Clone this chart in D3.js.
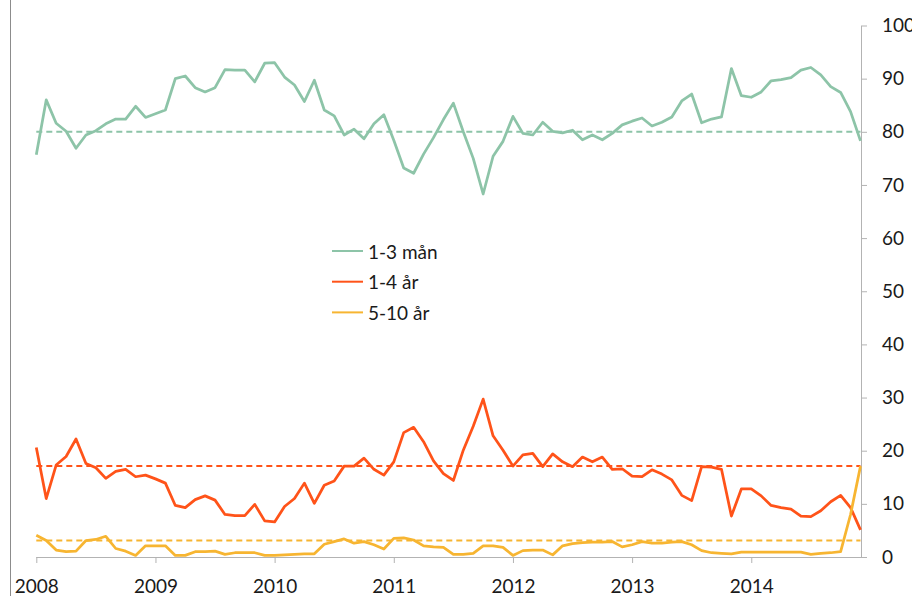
<!DOCTYPE html>
<html>
<head>
<meta charset="utf-8">
<script src="https://cdn.jsdelivr.net/npm/d3@7"></script>
<style>
  body { margin: 0; background: #fff; }
  svg { display: block; font-family: Lato, "Open Sans", sans-serif; }
</style>
</head>
<body>
<script>
// year labels, one tick every 12 months (Jan 2008 - Dec 2014)
var years = ["2008", "2009", "2010", "2011", "2012", "2013", "2014"];

// monthly values
var man13 = [75.7, 86.0, 81.6, 80.1, 76.9, 79.4, 80.2, 81.5, 82.4, 82.4, 84.8, 82.7,
             83.4, 84.1, 90.0, 90.5, 88.3, 87.5, 88.3, 91.7, 91.6, 91.6, 89.4, 92.9,
             93.0, 90.3, 88.8, 85.7, 89.7, 84.1, 83.0, 79.4, 80.5, 78.7, 81.5, 83.2,
             78.4, 73.2, 72.2, 75.8, 78.9, 82.3, 85.4, 80.0, 75.0, 68.3, 75.4, 78.2,
             82.9, 79.7, 79.4, 81.8, 80.1, 79.8, 80.3, 78.5, 79.4, 78.5, 79.7, 81.3,
             82.0, 82.6, 81.1, 81.8, 82.8, 85.8, 87.1, 81.7, 82.4, 82.8, 91.9, 86.8,
             86.5, 87.5, 89.6, 89.8, 90.2, 91.6, 92.1, 90.7, 88.5, 87.4, 83.8, 78.3];

var ar14 = [20.6, 11.0, 17.3, 18.9, 22.2, 17.6, 16.8, 14.8, 16.1, 16.5, 15.1, 15.4,
            14.7, 13.9, 9.7, 9.3, 10.8, 11.5, 10.7, 8.0, 7.8, 7.8, 9.9, 6.8,
            6.6, 9.5, 11.0, 13.9, 10.1, 13.5, 14.3, 17.1, 17.1, 18.6, 16.5, 15.4,
            17.9, 23.4, 24.4, 21.7, 18.1, 15.7, 14.4, 20.1, 24.6, 29.7, 22.8, 20.1,
            17.1, 19.2, 19.5, 17.0, 19.4, 17.9, 17.0, 18.8, 17.9, 18.8, 16.5, 16.6,
            15.2, 15.1, 16.4, 15.6, 14.5, 11.6, 10.6, 17.0, 16.9, 16.5, 7.7, 12.8,
            12.8, 11.5, 9.7, 9.3, 9.0, 7.7, 7.6, 8.7, 10.4, 11.6, 9.3, 5.1];

var ar510 = [4.1, 3.1, 1.3, 1.0, 1.1, 3.1, 3.3, 3.9, 1.6, 1.1, 0.3, 2.1,
             2.1, 2.1, 0.3, 0.3, 1.0, 1.0, 1.1, 0.5, 0.8, 0.8, 0.8, 0.3,
             0.3, 0.4, 0.5, 0.6, 0.6, 2.4, 2.9, 3.4, 2.6, 2.9, 2.3, 1.5,
             3.5, 3.6, 3.2, 2.1, 1.9, 1.8, 0.5, 0.5, 0.7, 2.1, 2.1, 1.8,
             0.3, 1.2, 1.3, 1.3, 0.4, 2.1, 2.5, 2.7, 2.8, 2.8, 2.9, 1.9,
             2.3, 2.9, 2.6, 2.6, 2.8, 2.9, 2.3, 1.2, 0.8, 0.7, 0.6, 0.9,
             0.9, 0.9, 0.9, 0.9, 0.9, 0.9, 0.5, 0.7, 0.8, 1.0, 8.0, 17.1];

// averages drawn as dashed lines
var averages = [80.0, 17.1, 3.1];

var seriesNames = ["1-3 mån", "1-4 år", "5-10 år"];
var seriesColors = ["#8dc4a8", "#ff5319", "#f7b531"];

var yTicks = [0, 10, 20, 30, 40, 50, 60, 70, 80, 90, 100];

var width = 912, height = 596;

var svg = d3.select("body").append("svg")
    .attr("width", width)
    .attr("height", height);

var n = man13.length;

var x = d3.scaleLinear()
    .domain([0, n - 1])
    .range([36.3, 860.5]);

var y = d3.scaleLinear()
    .domain([0, 100])
    .range([557, 25.5]);

// left border line
svg.append("line")
    .attr("x1", 10.5).attr("x2", 10.5)
    .attr("y1", 0).attr("y2", height)
    .style("stroke", "#8c8c8c")
    .style("stroke-width", 1);

// y axis on the right
var yAxis = svg.append("g")
    .attr("transform", "translate(" + 861 + ",0)")
    .call(d3.axisRight(y).tickValues(yTicks).tickSize(6).tickSizeOuter(0).tickPadding(15));

yAxis.select(".domain").style("stroke", "#b3b3b3");
yAxis.selectAll(".tick line").style("stroke", "#b3b3b3");
yAxis.selectAll(".tick text")
    .style("font-size", "19px")
    .style("fill", "#1a1a1a")
    .attr("font-family", "Lato, 'Open Sans', sans-serif");

// x axis, ticks at each january
var xAxis = svg.append("g")
    .attr("transform", "translate(0," + 557 + ")")
    .call(d3.axisBottom(x)
        .tickValues(years.map(function(d, i) { return i * 12; }))
        .tickFormat(function(d, i) { return years[i]; })
        .tickSize(6)
        .tickSizeOuter(0));

xAxis.select(".domain").attr("d", "M" + x(0) + ",0.5H861").style("stroke", "#b3b3b3");
xAxis.selectAll(".tick line").style("stroke", "#b3b3b3");
xAxis.selectAll(".tick text")
    .attr("y", 35.5)
    .attr("dy", null)
    .style("font-size", "19px")
    .style("fill", "#1a1a1a")
    .attr("font-family", "Lato, 'Open Sans', sans-serif");

// dashed average lines
averages.forEach(function(a, i) {
  svg.append("line")
      .attr("x1", x(0)).attr("x2", x(n - 1))
      .attr("y1", y(a)).attr("y2", y(a))
      .style("stroke", seriesColors[i])
      .style("stroke-width", 2)
      .style("stroke-dasharray", "6,4");
});

// the series lines
var line = d3.line()
    .x(function(d, i) { return x(i); })
    .y(function(d) { return y(d); });

[man13, ar14, ar510].forEach(function(s, i) {
  svg.append("path")
      .datum(s)
      .attr("d", line)
      .style("fill", "none")
      .style("stroke", seriesColors[i])
      .style("stroke-width", 2.75)
      .style("stroke-linejoin", "round");
});

// legend
var legend = svg.append("g");
seriesNames.forEach(function(name, i) {
  var ly = 251 + i * 30.7;
  legend.append("line")
      .attr("x1", 332).attr("x2", 363)
      .attr("y1", ly).attr("y2", ly)
      .style("stroke", seriesColors[i])
      .style("stroke-width", 2);
  legend.append("text")
      .attr("x", 368)
      .attr("y", ly)
      .attr("dominant-baseline", "central")
      .style("font-size", "19px")
      .style("fill", "#1a1a1a")
      .text(name);
});
</script>
</body>
</html>
